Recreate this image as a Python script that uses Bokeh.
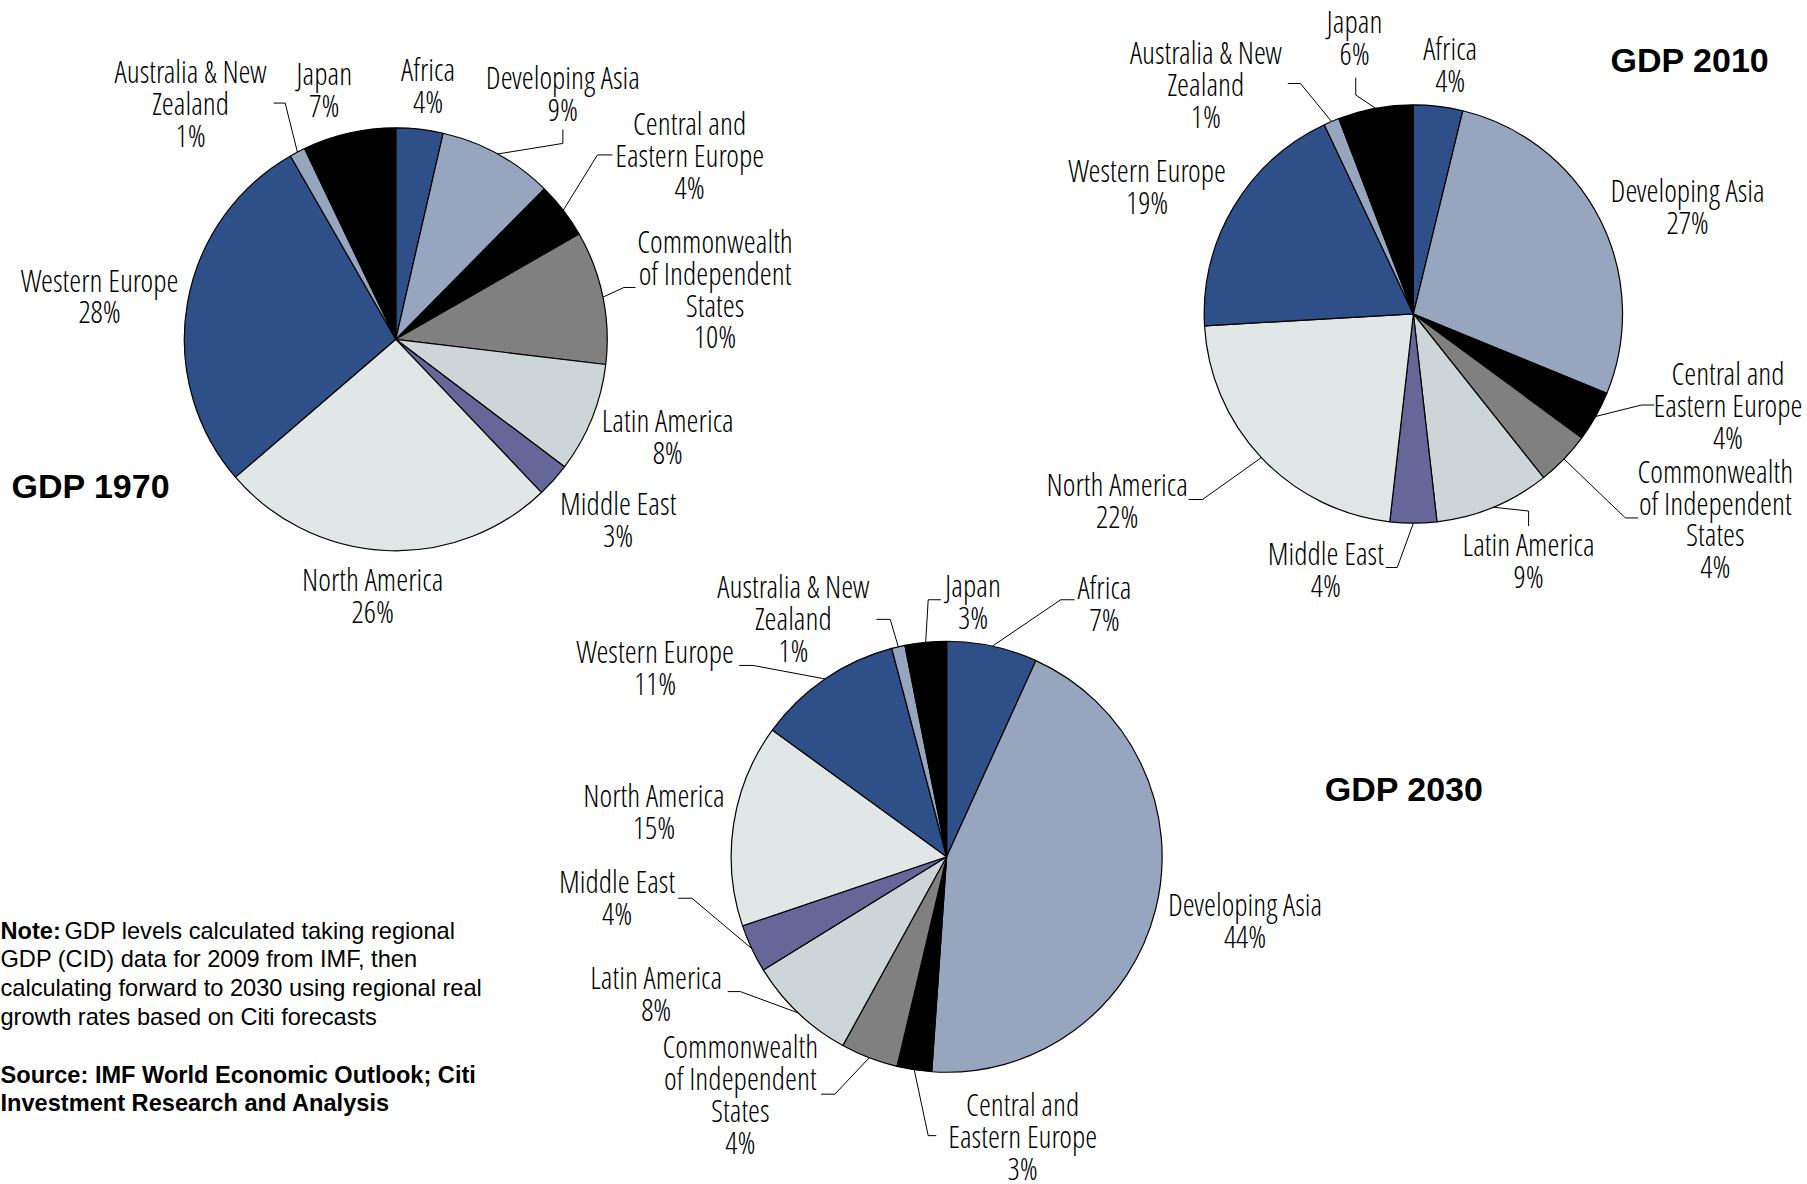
import math
from bokeh.plotting import figure
from bokeh.models import Range1d, ColumnDataSource
from bokeh.embed import file_html
from bokeh.resources import INLINE
from bokeh.core.properties import value

# ---------------- data ----------------
regions = ["Africa", "Developing Asia", "Central and Eastern Europe",
           "Commonwealth of Independent States", "Latin America", "Middle East",
           "North America", "Western Europe", "Australia & New Zealand", "Japan"]
share_1970 = [3.6, 8.8, 4.3, 10.2, 8.4, 2.6, 25.8, 28.0, 1.2, 7.1]
share_2010 = [3.8, 27.4, 3.9, 4.2, 8.9, 3.6, 22.3, 18.9, 1.2, 5.8]
share_2030 = [6.8, 44.3, 2.6, 4.3, 8.2, 3.6, 15.2, 10.9, 1.0, 3.1]
titles = ["GDP 1970", "GDP 2010", "GDP 2030"]
note_head = "Note:"
note_lines = ["GDP levels calculated taking regional",
              "GDP (CID) data for 2009 from IMF, then",
              "calculating forward to 2030 using regional real",
              "growth rates based on Citi forecasts"]
source_lines = ["Source: IMF World Economic Outlook; Citi",
                "Investment Research and Analysis"]

# ---------------- style ----------------
colors = ["#2E4F88", "#97A6BE", "#000000", "#808080", "#CDD5D8",
          "#666699", "#E1E7E7", "#2E4F88", "#97A6BE", "#000000"]
wrapped = {"Central and Eastern Europe": ["Central and", "Eastern Europe"],
           "Commonwealth of Independent States": ["Commonwealth", "of Independent", "States"],
           "Australia & New Zealand": ["Australia & New", "Zealand"]}
LABEL_FONT = "'Open Sans Condensed Light', 'Roboto Condensed', sans-serif"
PLAIN_FONT = "'Liberation Sans', Arial, sans-serif"
LINE_STEP = 27.7  # label line spacing (reference picture units)

# ---------------- layout (reference picture coords, scaled) ----------------
K = 1807 / 1568
PAGE_H = 1184
W, H = 1807, 1184


def X(x):
    return x * K


def Y(y):
    return PAGE_H - y * K


pies = [
    dict(shares=share_1970, c=(343, 294), r=183.5,
         labels={0: (371, 73), 1: (488, 80), 2: (598, 134), 3: (620, 250), 4: (579, 378),
                 5: (536, 450), 6: (323, 516), 7: (86, 256), 8: (165, 89), 9: (281, 76.5)},
         leaders={1: [(488, 112), (488, 124)], 2: [(531, 134), (518, 134)],
                  3: [(551, 249), (541, 249)], 8: [(237, 89), (247, 89)]},
         title=(9.5, 421, "left")),
    dict(shares=share_2010, c=(1226, 272), r=181.5,
         labels={0: (1258, 55), 1: (1464, 178.5), 2: (1499, 351), 3: (1488, 449.5),
                 4: (1326, 485.5), 5: (1150, 493), 6: (969, 433.5), 7: (995, 161),
                 8: (1046, 72.5), 9: (1175, 32)},
         leaders={9: [(1176, 67), (1176, 82)], 8: [(1117, 72), (1128, 72)],
                  2: [(1435, 351), (1424, 351)], 3: [(1421, 449), (1410, 449)],
                  4: [(1326, 456), (1326, 443)], 5: [(1202, 492), (1212, 492)],
                  6: [(1031, 433), (1043, 433)]},
         title=(1466, 52, "center")),
    dict(shares=share_2030, c=(821, 743), r=187,
         labels={0: (958, 523), 1: (1080, 798), 2: (887, 985), 3: (642, 949),
                 4: (569, 861), 5: (535, 778), 6: (567, 703.5), 7: (568, 578),
                 8: (688, 536), 9: (844, 521)},
         leaders={8: [(760, 537), (772, 537)], 9: [(816, 520), (805, 520)],
                  0: [(932, 520), (920, 520)], 7: [(641, 577), (653, 577)],
                  5: [(588, 779), (600, 779)], 4: [(631, 860), (642, 860)],
                  3: [(712, 949), (724, 949)], 2: [(812, 985), (805, 985)]},
         title=(1218, 684, "center")),
]

p = figure(width=W, height=H, x_range=Range1d(0, W),
           y_range=Range1d(PAGE_H - H, PAGE_H),
           output_backend="svg", toolbar_location=None,
           x_axis_type=None, y_axis_type=None, min_border=0)
p.outline_line_color = None
p.background_fill_color = "white"
p.border_fill_color = "white"

for k, pie in enumerate(pies):
    shares = pie["shares"]
    total = sum(shares)
    cum = [0.0]
    for v in shares:
        cum.append(cum[-1] + v)
    starts = [math.pi / 2 - 2 * math.pi * cum[i] / total for i in range(len(shares))]
    ends = [math.pi / 2 - 2 * math.pi * cum[i + 1] / total for i in range(len(shares))]
    cx, cy = pie["c"]
    src = ColumnDataSource(dict(start=starts, end=ends, color=colors, region=regions, share=shares))
    p.wedge(x=X(cx), y=Y(cy), radius=pie["r"] * K, start_angle="start", end_angle="end",
            direction="clock", fill_color="color", line_color="black", line_width=1.2,
            source=src)

    # labels, one text per line
    lx, ly, lt = [], [], []
    for i, (bx, by) in pie["labels"].items():
        lines = wrapped.get(regions[i], [regions[i]]) + [f"{round(shares[i])}%"]
        n = len(lines)
        for j, s in enumerate(lines):
            lx.append(X(bx))
            ly.append(Y(by + (j - (n - 1) / 2) * LINE_STEP))
            lt.append(s)
    p.text(x=lx, y=ly, text=lt, text_font=value(LABEL_FONT), text_font_size="30.5px",
           text_align="center", text_baseline="middle", text_color="black")

    # leader lines: text side -> elbow -> slice edge at mid angle
    xs, ys = [], []
    for i, pts in pie["leaders"].items():
        mid = (cum[i] + cum[i + 1]) / 2 / total * 2 * math.pi
        ex = cx + pie["r"] * math.sin(mid)
        ey = cy - pie["r"] * math.cos(mid)
        allp = pts + [(ex, ey)]
        xs.append([X(a) for a, b in allp])
        ys.append([Y(b) for a, b in allp])
    p.multi_line(xs=xs, ys=ys, line_color="black", line_width=1)

    tx, ty, ta = pie["title"]
    p.text(x=[X(tx)], y=[Y(ty)], text=[titles[k]], text_font=value(PLAIN_FONT),
           text_font_size="34px", text_font_style="bold", text_align=ta,
           text_baseline="middle", text_color="black")

# note block
NOTE_X = 0
note_ys = [807, 832, 857, 882]
p.text(x=[NOTE_X], y=[Y(note_ys[0])], text=[note_head], text_font=value(PLAIN_FONT),
       text_font_size="23.6px", text_font_style="bold", text_align="left",
       text_baseline="middle", text_color="black")
p.text(x=[NOTE_X + 64] + [NOTE_X] * 3, y=[Y(v) for v in note_ys],
       text=note_lines, text_font=value(PLAIN_FONT),
       text_font_size="23.6px", text_align="left", text_baseline="middle", text_color="black")
p.text(x=[NOTE_X] * 2, y=[Y(932), Y(957)], text=source_lines, text_font=value(PLAIN_FONT),
       text_font_size="23.6px", text_font_style="bold", text_align="left",
       text_baseline="middle", text_color="black")

open("out.html", "w").write(file_html(p, INLINE))
